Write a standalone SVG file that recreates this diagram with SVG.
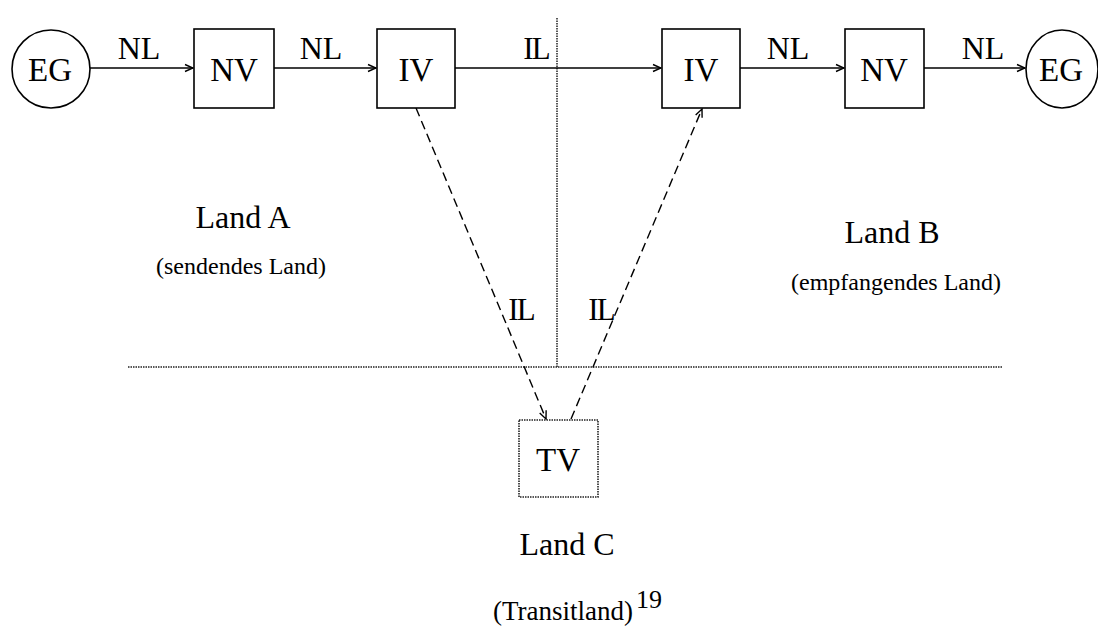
<svg xmlns="http://www.w3.org/2000/svg" width="1098" height="632" viewBox="0 0 1098 632">
<style>
text{font-family:"Liberation Serif","Times New Roman",serif;fill:#000}
.box{fill:#fff;stroke:#000;stroke-width:1.6}
.lbl{font-size:32px;text-anchor:middle}
.node{font-size:33px;text-anchor:middle}
.il{font-size:31px;text-anchor:middle;letter-spacing:-2px}
.solid{stroke:#000;stroke-width:1.4;fill:none}
.dash{stroke:#000;stroke-width:1.4;fill:none;stroke-dasharray:9 5}
.dot{stroke:#222;stroke-width:1.5;fill:none;stroke-dasharray:1.5 1}
.land{font-size:32px;text-anchor:middle}
.sub{font-size:24px;text-anchor:middle}
</style>
<defs>
<marker id="arr" markerWidth="10" markerHeight="10" refX="9" refY="5" orient="auto" markerUnits="userSpaceOnUse">
<path d="M1,1.5 L9,5 L1,8.5" fill="none" stroke="#000" stroke-width="1.4"/>
</marker>
</defs>
<g id="borders">
<line class="dot" x1="557" y1="18" x2="557" y2="367"/>
<line class="dot" x1="128" y1="367" x2="1002" y2="367"/>
</g>
<g id="connectors">
<line class="solid" x1="90" y1="68" x2="193" y2="68" marker-end="url(#arr)"/>
<line class="solid" x1="274" y1="68" x2="376" y2="68" marker-end="url(#arr)"/>
<line class="solid" x1="455" y1="68" x2="661" y2="68" marker-end="url(#arr)"/>
<line class="solid" x1="740" y1="68" x2="844" y2="68" marker-end="url(#arr)"/>
<line class="solid" x1="924" y1="68" x2="1025" y2="68" marker-end="url(#arr)"/>
<line class="dash" x1="416" y1="108" x2="546" y2="419" marker-end="url(#arr)"/>
<line class="dash" x1="571" y1="419" x2="702" y2="109" marker-end="url(#arr)"/>
<text class="lbl" x="139" y="59">NL</text>
<text class="lbl" x="321" y="59">NL</text>
<text class="il" x="536" y="59">IL</text>
<text class="lbl" x="788" y="59">NL</text>
<text class="lbl" x="983" y="59">NL</text>
<text class="il" x="521" y="320">IL</text>
<text class="il" x="601" y="320">IL</text>
</g>
<g id="eg-left">
<circle class="box" cx="51" cy="69" r="39"/>
<text class="node" x="50" y="81">EG</text>
</g>
<g id="nv-left">
<rect class="box" x="194" y="29" width="80" height="79"/>
<text class="node" x="234" y="81">NV</text>
</g>
<g id="iv-left">
<rect class="box" x="377" y="29" width="78" height="79"/>
<text class="node" x="416" y="81">IV</text>
</g>
<g id="iv-right">
<rect class="box" x="662" y="29" width="78" height="79"/>
<text class="node" x="701" y="81">IV</text>
</g>
<g id="nv-right">
<rect class="box" x="845" y="29" width="79" height="79"/>
<text class="node" x="884" y="81">NV</text>
</g>
<g id="eg-right">
<ellipse class="box" cx="1062" cy="69" rx="36" ry="39"/>
<text class="node" x="1061" y="81">EG</text>
</g>
<g id="tv">
<rect class="box" x="519" y="420" width="79" height="77" style="stroke-dasharray:1.5 1;stroke:#222"/>
<text class="node" x="558" y="471">TV</text>
</g>
<g id="labels">
<text class="land" x="243" y="228">Land A</text>
<text class="sub" x="241" y="274">(sendendes Land)</text>
<text class="land" x="892" y="243">Land B</text>
<text class="sub" x="896" y="290">(empfangendes Land)</text>
<text class="land" x="567" y="555">Land C</text>
<text x="493" y="620" style="font-size:27px">(Transitland)<tspan dx="3" dy="-12" style="font-size:26px">19</tspan></text>
</g>
</svg>
